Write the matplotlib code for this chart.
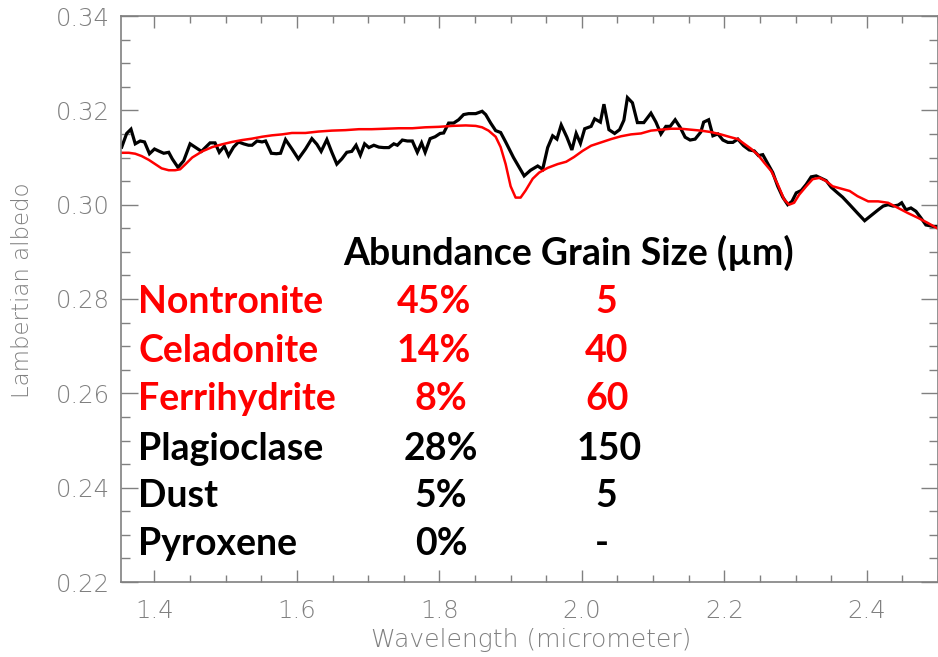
import matplotlib
matplotlib.use("Agg")
import matplotlib.pyplot as plt
from matplotlib.ticker import MultipleLocator, FormatStrFormatter

# Measured spectrum (black)
obs_wavelength = [
    1.354, 1.361, 1.367, 1.373, 1.380, 1.386, 1.393, 1.400, 1.407, 1.413,
    1.420, 1.425, 1.433, 1.441, 1.450, 1.458, 1.466, 1.472, 1.478, 1.485,
    1.491, 1.498, 1.504, 1.511, 1.518, 1.525, 1.532, 1.537, 1.544, 1.551,
    1.556, 1.564, 1.571, 1.577, 1.584, 1.593, 1.602, 1.612, 1.621, 1.628,
    1.634, 1.642, 1.649, 1.656, 1.663, 1.670, 1.677, 1.683, 1.689, 1.695,
    1.701, 1.708, 1.715, 1.722, 1.729, 1.736, 1.741, 1.748, 1.755, 1.762,
    1.769, 1.775, 1.780, 1.787, 1.794, 1.801, 1.806, 1.813, 1.820, 1.827,
    1.834, 1.841, 1.851, 1.860, 1.865, 1.872, 1.879, 1.886, 1.893, 1.904,
    1.919, 1.928, 1.938, 1.945, 1.952, 1.959, 1.965, 1.971, 1.979, 1.986,
    1.992, 1.998, 2.004, 2.013, 2.018, 2.026, 2.031, 2.038, 2.046, 2.053,
    2.059, 2.064, 2.071, 2.078, 2.087, 2.097, 2.104, 2.111, 2.118, 2.124,
    2.131, 2.138, 2.145, 2.152, 2.159, 2.167, 2.171, 2.178, 2.184, 2.191,
    2.198, 2.205, 2.212, 2.219, 2.227, 2.235, 2.242, 2.248, 2.254, 2.261,
    2.268, 2.275, 2.282, 2.289, 2.295, 2.301, 2.308, 2.315, 2.322, 2.329,
    2.336, 2.343, 2.350, 2.359, 2.366, 2.376, 2.387, 2.397, 2.406, 2.416,
    2.423, 2.430, 2.437, 2.444, 2.449, 2.455, 2.462, 2.469, 2.476, 2.483,
    2.493, 2.500,
]
obs_albedo = [
    0.3122, 0.3151, 0.3160, 0.3129, 0.3135, 0.3133, 0.3108, 0.3118, 0.3113, 0.3109,
    0.3111, 0.3097, 0.3079, 0.3093, 0.3129, 0.3121, 0.3113, 0.3122, 0.3131, 0.3131,
    0.3111, 0.3124, 0.3104, 0.3122, 0.3133, 0.3129, 0.3126, 0.3126, 0.3135, 0.3133,
    0.3135, 0.3109, 0.3108, 0.3109, 0.3138, 0.3118, 0.3097, 0.3118, 0.3140, 0.3128,
    0.3113, 0.3138, 0.3111, 0.3086, 0.3097, 0.3111, 0.3113, 0.3126, 0.3105, 0.3129,
    0.3121, 0.3126, 0.3122, 0.3121, 0.3121, 0.3129, 0.3126, 0.3137, 0.3135, 0.3135,
    0.3111, 0.3131, 0.3111, 0.3140, 0.3144, 0.3151, 0.3152, 0.3173, 0.3173, 0.3180,
    0.3191, 0.3193, 0.3193, 0.3198, 0.3191, 0.3173, 0.3157, 0.3153, 0.3133, 0.3100,
    0.3061, 0.3073, 0.3082, 0.3075, 0.3121, 0.3146, 0.3139, 0.3169, 0.3143, 0.3116,
    0.3151, 0.3130, 0.3161, 0.3166, 0.3182, 0.3175, 0.3213, 0.3159, 0.3151, 0.3159,
    0.3179, 0.3227, 0.3216, 0.3174, 0.3174, 0.3194, 0.3175, 0.3150, 0.3166, 0.3166,
    0.3180, 0.3164, 0.3143, 0.3137, 0.3139, 0.3154, 0.3175, 0.3180, 0.3146, 0.3150,
    0.3137, 0.3132, 0.3132, 0.3139, 0.3125, 0.3116, 0.3114, 0.3104, 0.3106, 0.3087,
    0.3068, 0.3039, 0.3016, 0.3000, 0.3007, 0.3025, 0.3030, 0.3043, 0.3059, 0.3061,
    0.3056, 0.3051, 0.3037, 0.3025, 0.3016, 0.3000, 0.2982, 0.2966, 0.2977, 0.2989,
    0.2997, 0.3000, 0.2997, 0.2999, 0.3004, 0.2989, 0.2993, 0.2986, 0.2972, 0.2957,
    0.2954, 0.2954,
]

# Best-fit mixture model (red)
model_wavelength = [
    1.353, 1.364, 1.373, 1.382, 1.392, 1.401, 1.410, 1.420, 1.429, 1.436,
    1.443, 1.453, 1.467, 1.481, 1.495, 1.509, 1.523, 1.537, 1.551, 1.565,
    1.579, 1.593, 1.612, 1.630, 1.649, 1.668, 1.687, 1.705, 1.724, 1.743,
    1.762, 1.780, 1.799, 1.818, 1.837, 1.851, 1.860, 1.869, 1.879, 1.886,
    1.893, 1.900, 1.907, 1.914, 1.921, 1.931, 1.940, 1.952, 1.966, 1.978,
    1.989, 2.001, 2.013, 2.027, 2.041, 2.055, 2.069, 2.083, 2.097, 2.111,
    2.125, 2.139, 2.153, 2.167, 2.181, 2.195, 2.209, 2.219, 2.228, 2.238,
    2.247, 2.256, 2.266, 2.275, 2.284, 2.291, 2.298, 2.305, 2.315, 2.324,
    2.334, 2.343, 2.352, 2.364, 2.376, 2.387, 2.402, 2.416, 2.430, 2.444,
    2.458, 2.472, 2.486, 2.500,
]
model_albedo = [
    0.3110, 0.3110, 0.3108, 0.3103, 0.3095, 0.3086, 0.3077, 0.3073, 0.3073, 0.3075,
    0.3085, 0.3100, 0.3113, 0.3122, 0.3128, 0.3133, 0.3137, 0.3140, 0.3144, 0.3147,
    0.3149, 0.3152, 0.3152, 0.3155, 0.3157, 0.3158, 0.3160, 0.3160, 0.3161, 0.3162,
    0.3162, 0.3164, 0.3165, 0.3167, 0.3168, 0.3167, 0.3164, 0.3157, 0.3144, 0.3122,
    0.3086, 0.3039, 0.3015, 0.3015, 0.3030, 0.3055, 0.3068, 0.3078, 0.3086, 0.3091,
    0.3101, 0.3114, 0.3125, 0.3132, 0.3139, 0.3145, 0.3149, 0.3151, 0.3157, 0.3159,
    0.3161, 0.3161, 0.3159, 0.3157, 0.3154, 0.3149, 0.3143, 0.3139, 0.3129, 0.3118,
    0.3106, 0.3089, 0.3071, 0.3043, 0.3011, 0.3000, 0.3004, 0.3021, 0.3039, 0.3054,
    0.3057, 0.3050, 0.3039, 0.3034, 0.3029, 0.3018, 0.3007, 0.3007, 0.3004, 0.2993,
    0.2982, 0.2972, 0.2961, 0.2949,
]

# Mixture table
minerals = ["Nontronite", "Celadonite", "Ferrihydrite", "Plagioclase", "Dust", "Pyroxene"]
abundances = ["45%", "14%", "8%", "28%", "5%", "0%"]
grain_sizes = ["5", "40", "60", "150", "5", "-"]
row_colors = ["#ff0000", "#ff0000", "#ff0000", "black", "black", "black"]

W, H = 938, 657
fig = plt.figure(figsize=(W / 100, H / 100), dpi=100)
ax = fig.add_axes([121 / W, 1 - 582 / H, (W - 121) / W, (582 - 16) / H])

axis_gray = "#808080"
ax.plot(obs_wavelength, obs_albedo, color="black", lw=2.3, solid_joinstyle="miter")
ax.plot(model_wavelength, model_albedo, color="#ff0000", lw=1.8)

ax.set_xlim(1.353, 2.5)
ax.set_ylim(0.22, 0.34)
ax.xaxis.set_major_locator(MultipleLocator(0.2))
ax.xaxis.set_minor_locator(MultipleLocator(0.05))
ax.yaxis.set_major_locator(MultipleLocator(0.02))
ax.yaxis.set_minor_locator(MultipleLocator(0.005))
ax.xaxis.set_major_formatter(FormatStrFormatter("%.1f"))
ax.yaxis.set_major_formatter(FormatStrFormatter("%.2f"))

for s in ax.spines.values():
    s.set_color(axis_gray)
    s.set_linewidth(1.2)

ax.tick_params(which="both", direction="in", top=True, right=True,
               color=axis_gray, labelcolor=axis_gray, width=1)
ax.tick_params(axis="y", which="major", length=12, pad=8, labelsize=17.5)
ax.tick_params(axis="y", which="minor", length=6.5)
ax.tick_params(axis="x", which="major", length=8.5, pad=12, labelsize=17.5)
ax.tick_params(axis="x", which="minor", length=5)
for lab in ax.get_xticklabels() + ax.get_yticklabels():
    lab.set_fontweight("light")

ylabs = ax.get_yticklabels()
ylabs[0].set_va("bottom")
ylabs[-1].set_va("top")

fig.text(23 / W, 1 - 290 / H, "Lambertian albedo", rotation=90, ha="center",
         va="center", color=axis_gray, fontsize=16.5, fontweight="light")
fig.text(531 / W, 1 - 640 / H, "Wavelength (micrometer)", ha="center",
         va="center", color=axis_gray, fontsize=18, fontweight="light")

# Table text
tfont = dict(family="Lato", fontweight="bold", fontsize=27)
fig.text(569 / W, 1 - 265 / H, "Abundance Grain Size (\u00b5m)", ha="center",
         va="baseline", color="black", **tfont)
baselines = [313, 362, 410, 460, 507, 555]
abund_x = [434, 434, 441, 441, 441, 441]
grain_x = [606, 607, 607, 609, 606, 602]
for name, ab, gs, c, yb, xa, xg in zip(minerals, abundances, grain_sizes,
                                        row_colors, baselines, abund_x, grain_x):
    fy = 1 - yb / H
    fig.text(138 / W, fy, name, ha="left", va="baseline", color=c, **tfont)
    fig.text(xa / W, fy, ab, ha="center", va="baseline", color=c, **tfont)
    fig.text(xg / W, fy, gs, ha="center", va="baseline", color=c, **tfont)

fig.savefig("out.png", dpi=100)
